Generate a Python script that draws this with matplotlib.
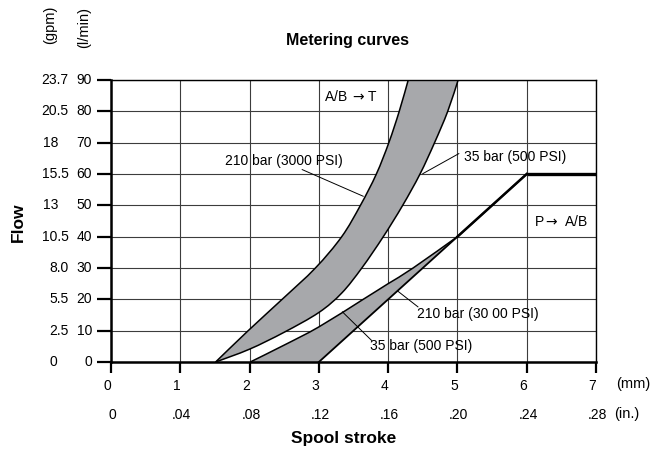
import numpy as np
import matplotlib
matplotlib.use('Agg')
import matplotlib.pyplot as plt
from matplotlib.path import Path
from matplotlib.patches import PathPatch
from matplotlib.transforms import blended_transform_factory

plt.rcParams['font.family'] = ['Liberation Sans', 'DejaVu Sans']

# axis values and tick labels
stroke_mm = [0, 1, 2, 3, 4, 5, 6, 7]
stroke_in = ['0', '.04', '.08', '.12', '.16', '.20', '.24', '.28']
flow_lpm = [0, 10, 20, 30, 40, 50, 60, 70, 80, 90]
flow_gpm = ['0', '2.5', '5.5', '8.0', '10.5', '13', '15.5', '18', '20.5', '23.7']

# A/B -> T band
abt_210_x = [1.51, 1.98, 2.47, 2.95, 3.33, 3.6, 3.83, 4.01, 4.16, 4.29]
abt_210_y = [0, 10, 20, 30, 40, 50, 60, 70, 80, 90]
abt_35_x = [1.51, 2.0, 2.5, 3.0, 3.33, 3.62, 3.93, 4.21, 4.46, 4.67, 4.86, 5.01]
abt_35_y = [0, 4.1, 9.5, 15.8, 22, 30, 40, 50, 60, 70, 80, 90]

# P -> A/B band
pab_210_x = [2.01, 2.5, 3.0, 3.64, 4.0, 4.36, 5.0]
pab_210_y = [0, 5.4, 11.2, 20, 25, 30, 40]
pab_35_x = [3.0, 4.0, 5.0, 6.0]
pab_35_y = [0, 20, 40, 60]
sat_x = [6.0, 7.0]
sat_y = [60, 60]

fill_c = '#a7a8ab'
grid_c = '#3c3c3c'
fs = 10


def bezier_verts(xs, ys):
    # smooth path through the read points (Catmull-Rom as cubic Bezier)
    p = np.column_stack([xs, ys]).astype(float)
    ext = np.vstack([p[0], p, p[-1]])
    verts = [p[0]]
    for i in range(len(p) - 1):
        a, b, c, d = ext[i], ext[i + 1], ext[i + 2], ext[i + 3]
        verts += [b + (c - a) / 6, c - (d - b) / 6, c]
    return verts


def curve_path(xs, ys):
    v = bezier_verts(xs, ys)
    codes = [Path.MOVETO] + [Path.CURVE4] * (len(v) - 1)
    return Path(v, codes)


def band_path(x1, y1, x2, y2):
    v1 = bezier_verts(x1, y1)
    v2 = bezier_verts(x2[::-1], y2[::-1])
    verts = v1 + v2 + [v1[0]]
    codes = ([Path.MOVETO] + [Path.CURVE4] * (len(v1) - 1) + [Path.LINETO]
             + [Path.CURVE4] * (len(v2) - 1) + [Path.CLOSEPOLY])
    return Path(verts, codes)


fig = plt.figure(figsize=(6.6, 4.5), dpi=100)
W, H = 660, 450
ax = fig.add_axes([111 / W, 1 - 362 / H, (596 - 111) / W, (362 - 80) / H])
ax.set_xlim(0, 7)
ax.set_ylim(0, 90)
ax.set_xticks(stroke_mm)
ax.set_yticks(flow_lpm)
ax.set_xticklabels([])
ax.set_yticklabels([])
ax.grid(True, color=grid_c, lw=0.8)
ax.set_axisbelow(True)
for s in ['top', 'right']:
    ax.spines[s].set_linewidth(1.0)
for s in ['left', 'bottom']:
    ax.spines[s].set_linewidth(1.8)
ax.tick_params(axis='y', direction='out', length=10, width=1.6)
ax.tick_params(axis='x', direction='out', length=8, width=1.6)

# bands
ax.add_patch(PathPatch(band_path(abt_210_x, abt_210_y, abt_35_x, abt_35_y),
                       facecolor=fill_c, lw=0, zorder=2))
ax.add_patch(PathPatch(band_path(pab_210_x, pab_210_y, pab_35_x[:3], pab_35_y[:3]),
                       facecolor=fill_c, lw=0, zorder=2))
for xs, ys in [(abt_210_x, abt_210_y), (abt_35_x, abt_35_y), (pab_210_x, pab_210_y)]:
    ax.add_patch(PathPatch(curve_path(xs, ys), facecolor='none', edgecolor='black',
                           lw=1.1, zorder=3))
ax.plot(pab_35_x, pab_35_y, color='black', lw=1.3, zorder=3)
ax.plot(pab_35_x[2:], pab_35_y[2:], color='black', lw=1.8, zorder=3)
ax.plot(sat_x, sat_y, color='black', lw=2.4, solid_capstyle='butt', clip_on=False, zorder=3)

# labels and leaders
lead = dict(color='black', lw=0.7)
ax.text(3.46, 84.8, 'A/B $\\rightarrow$T', fontsize=fs, ha='center', va='center')
ax.text(6.49, 44.7, 'P$\\rightarrow$ A/B', fontsize=fs, ha='center', va='center')
ax.text(2.49, 64.2, '210 bar (3000 PSI)', fontsize=fs, ha='center', va='center')
ax.plot([2.76, 3.64], [61.4, 52.9], **lead)
ax.text(5.10, 65.4, '35 bar (500 PSI)', fontsize=fs, ha='left', va='center')
ax.plot([5.02, 4.5], [66.5, 60.1], **lead)
ax.text(5.29, 15.4, '210 bar (30 00 PSI)', fontsize=fs, ha='center', va='center')
ax.plot([4.43, 4.14], [17.6, 22.6], **lead)
ax.text(4.48, 5.0, '35 bar (500 PSI)', fontsize=fs, ha='center', va='center')
ax.plot([3.76, 3.34], [6.9, 16.0], **lead)

# y tick labels (l/min and gpm)
ty = blended_transform_factory(fig.transFigure, ax.transData)
gpm_left = ['13', '18']
for v, g in zip(flow_lpm, flow_gpm):
    ax.text(92 / W, v, str(v), transform=ty, fontsize=fs, ha='right', va='center')
    if g in gpm_left:
        ax.text(42.5 / W, v, g, transform=ty, fontsize=fs, ha='left', va='center')
    elif g == '0':
        ax.text(53 / W, v, g, transform=ty, fontsize=fs, ha='center', va='center')
    else:
        ax.text(68.5 / W, v, g, transform=ty, fontsize=fs, ha='right', va='center')

# x tick labels (mm and in.)
tx = blended_transform_factory(ax.transData, fig.transFigure)
for v, s in zip(stroke_mm, stroke_in):
    ax.text(v - 0.05, 1 - 386 / H, str(v), transform=tx, fontsize=fs, ha='center', va='center')
    ax.text(v + 0.02, 1 - 415 / H, s, transform=tx, fontsize=fs, ha='center', va='center')
fig.text(616 / W, 1 - 384 / H, '(mm)', fontsize=fs + 0.5, ha='left', va='center')
fig.text(614 / W, 1 - 414 / H, '(in.)', fontsize=fs + 0.5, ha='left', va='center')

fig.text(50 / W, 1 - 25 / H, '(gpm)', fontsize=fs + 0.5, rotation=90, ha='center', va='center')
fig.text(84 / W, 1 - 28 / H, '(l/min)', fontsize=fs + 0.5, rotation=90, ha='center', va='center')
fig.text(18 / W, 1 - 222 / H, 'Flow', fontsize=12.5, fontweight='bold', rotation=90,
         ha='center', va='center')
fig.text(348 / W, 1 - 40 / H, 'Metering curves', fontsize=11.5, fontweight='bold',
         ha='center', va='center')
fig.text(344 / W, 1 - 438 / H, 'Spool stroke', fontsize=12.5, fontweight='bold',
         ha='center', va='center')

fig.savefig('out.png', dpi=100)
